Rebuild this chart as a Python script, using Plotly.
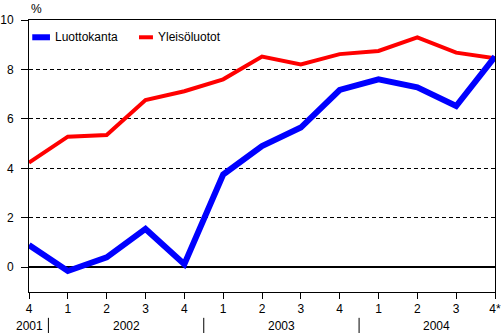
import plotly.graph_objects as go

quarters = ["4", "1", "2", "3", "4", "1", "2", "3", "4", "1", "2", "3", "4*"]
years = ["2001", "2002", "2003", "2004"]
year_centers = [0, 2.5, 6.5, 10.5]
year_breaks = [0.5, 4.5, 8.5]

series_names = ["Luottokanta", "Yleisöluotot"]
luottokanta = [0.9, -0.15, 0.4, 1.55, 0.12, 3.75, 4.9, 5.65, 7.17, 7.6, 7.28, 6.52, 8.52]
yleisoluotot = [4.23, 5.28, 5.35, 6.76, 7.12, 7.6, 8.52, 8.2, 8.62, 8.75, 9.3, 8.68, 8.45]

x = list(range(len(quarters)))
font = dict(family="Liberation Sans, Arial, sans-serif", size=12, color="black")
colors = {"Luottokanta": "#0000ff", "Yleisöluotot": "#ff0000"}
widths = {"Luottokanta": 6, "Yleisöluotot": 4}

fig = go.Figure()
# red first so the blue line sits on top where they meet
fig.add_trace(go.Scatter(x=x, y=yleisoluotot, mode="lines", name=series_names[1],
                         line=dict(color=colors[series_names[1]], width=widths[series_names[1]]),
                         showlegend=False))
fig.add_trace(go.Scatter(x=x, y=luottokanta, mode="lines", name=series_names[0],
                         line=dict(color=colors[series_names[0]], width=widths[series_names[0]]),
                         showlegend=False))

fig.update_layout(
    width=501, height=333,
    margin=dict(l=29, r=6, t=20, b=41, autoexpand=False),
    paper_bgcolor="white", plot_bgcolor="white",
    font=font,
    showlegend=False,
)
fig.update_xaxes(
    range=[0, 12], tickvals=x, ticktext=quarters,
    showgrid=False, zeroline=False, automargin=False,
    showline=True, linecolor="black", linewidth=1, mirror=True,
    ticks="outside", ticklen=6, tickcolor="black", tickwidth=1,
    tickfont=font, ticklabeloverflow="allow",
)
fig.update_yaxes(
    range=[-1, 10], tickvals=[0, 2, 4, 6, 8, 10],
    showgrid=True, gridcolor="black", griddash="4px,3px", gridwidth=1,
    zeroline=True, zerolinecolor="black", zerolinewidth=1.5, automargin=False,
    showline=True, linecolor="black", linewidth=1, mirror=True,
    ticks="outside", ticklen=7, tickcolor="black", tickwidth=1,
    tickfont=font, ticklabelstandoff=5, ticklabeloverflow="allow",
)

# Legend drawn inside the plot, top-left: short line sample + label
legend_items = [(series_names[0], 0.007, 0.045, 0.052),
                (series_names[1], 0.236, 0.266, 0.273)]
legend_y = 0.9365
for name, sx0, sx1, tx in legend_items:
    fig.add_shape(type="line", xref="paper", yref="paper",
                  x0=sx0, x1=sx1, y0=legend_y, y1=legend_y,
                  line=dict(color=colors[name], width=widths[name]))
    fig.add_annotation(text=name, xref="paper", yref="paper", x=tx, y=legend_y,
                       xanchor="left", yanchor="middle", showarrow=False, font=font)

fig.add_annotation(text="%", x=0, xref="paper", xanchor="left", xshift=0,
                   y=1, yref="paper", yanchor="bottom", yshift=2,
                   showarrow=False, font=font)

for yr, cx in zip(years, year_centers):
    fig.add_annotation(text=yr, x=cx, xref="x", y=0, yref="paper",
                       yanchor="top", yshift=-25, showarrow=False, font=font)

for bx in year_breaks:
    fig.add_shape(type="line", x0=bx, x1=bx, xref="x",
                  y0=-0.095, y1=-0.155, yref="paper",
                  line=dict(color="black", width=1))

fig.write_html("out.html")
